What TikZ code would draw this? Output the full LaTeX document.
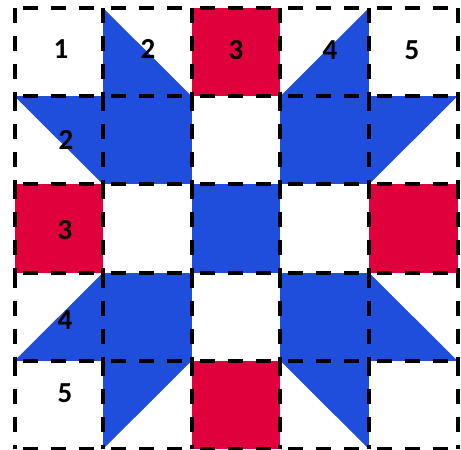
\documentclass[tikz,border=0pt]{standalone}
\usepackage{fontspec}
\setmainfont{Carlito}
\definecolor{qblue}{RGB}{31,78,220}
\definecolor{qred}{RGB}{224,0,60}
\tikzset{
  hline/.style={line width=4pt, dash pattern=on 15pt off 13pt, dash phase=20pt},
  vline/.style={line width=4pt, dash pattern=on 15pt off 13pt, dash phase=0pt},
  lbl/.style={font=\fontsize{29}{31}\selectfont\bfseries, inner sep=0pt, text=black}
}
\begin{document}
\begin{tikzpicture}[x=1pt,y=-1pt]
\useasboundingbox (0,0) rectangle (461,450);
\fill[white] (0,0) rectangle (461,450);
\begin{scope}[shift={(14.5,8)}, x=88.6pt, y=-88.2pt]
  % red squares
  \foreach \c/\r in {2/0,0/2,4/2,2/4}
    \fill[qred] (\c,\r) rectangle ++(1,1);
  % blue squares
  \foreach \c/\r in {1/1,3/1,2/2,1/3,3/3}
    \fill[qblue] (\c,\r) rectangle ++(1,1);
  % blue triangles
  \fill[qblue] (1,0) -- (1,1) -- (2,1) -- cycle;
  \fill[qblue] (4,0) -- (4,1) -- (3,1) -- cycle;
  \fill[qblue] (0,1) -- (1,1) -- (1,2) -- cycle;
  \fill[qblue] (5,1) -- (4,1) -- (4,2) -- cycle;
  \fill[qblue] (1,3) -- (1,4) -- (0,4) -- cycle;
  \fill[qblue] (4,3) -- (4,4) -- (5,4) -- cycle;
  \fill[qblue] (1,4) -- (2,4) -- (1,5) -- cycle;
  \fill[qblue] (3,4) -- (4,4) -- (4,5) -- cycle;
  % dashed grid
  \foreach \r in {0,...,5}
    \foreach \c in {0,...,4}
      \draw[hline] (\c,\r) -- (\c+1,\r);
  \foreach \c in {0,...,5}
    \foreach \r in {0,...,4}
      \draw[vline] (\c,\r) -- (\c,\r+1);
\end{scope}
% labels
\node[lbl] (t1) at (61,49) {1};
\node[lbl] (t2) at (148,49) {2};
\node[lbl] (t3) at (236,50) {3};
\node[lbl] (t4) at (330,50) {4};
\node[lbl] (t5) at (412,50) {5};
\node[lbl] (l2) at (66,140) {2};
\node[lbl] (l3) at (65,230) {3};
\node[lbl] (l4) at (65,320) {4};
\node[lbl] (l5) at (65,393) {5};
\end{tikzpicture}
\end{document}
